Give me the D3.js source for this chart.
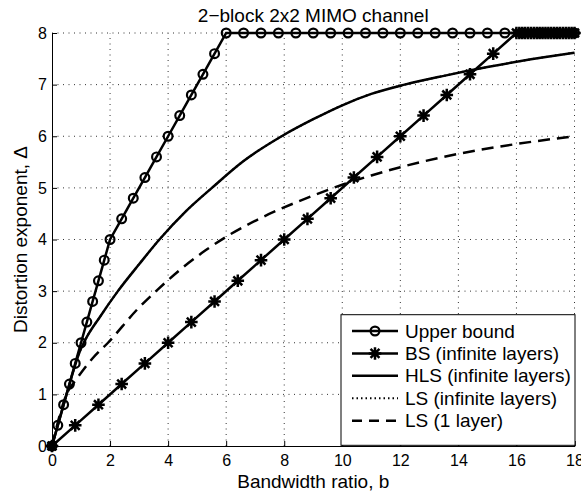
<!DOCTYPE html>
<html>
<head>
<meta charset="utf-8">
<script src="https://cdn.jsdelivr.net/npm/d3@7"></script>
<style>
  body { margin: 0; background: #fff; }
  svg { display: block; font-family: "Liberation Sans", Arial, sans-serif; }
</style>
</head>
<body>
<div id="chart"></div>
<script>
// 2-block 2x2 MIMO channel: distortion exponent vs bandwidth ratio

const X_TICKS = [0, 2, 4, 6, 8, 10, 12, 14, 16, 18];
const Y_TICKS = [0, 1, 2, 3, 4, 5, 6, 7, 8];

// Upper bound (circles)
const ubB = [0, 0.2, 0.4, 0.6, 0.8, 1.0, 1.2, 1.4, 1.6, 1.8, 2.0, 2.4, 2.8, 3.2, 3.6, 4.0, 4.4, 4.8, 5.2, 5.6, 6.0,
             6.6, 7.2, 7.8, 8.4, 9.0, 9.6, 10.2, 10.8, 11.4, 12.0, 12.6, 13.2, 13.8, 14.4, 15.0, 15.6, 16.2, 16.8, 17.4, 18.0];
const ubD = [0, 0.4, 0.8, 1.2, 1.6, 2.0, 2.4, 2.8, 3.2, 3.6, 4.0, 4.4, 4.8, 5.2, 5.6, 6.0, 6.4, 6.8, 7.2, 7.6, 8.0,
             8, 8, 8, 8, 8, 8, 8, 8, 8, 8, 8, 8, 8, 8, 8, 8, 8, 8, 8, 8];

// BS (infinite layers), asterisks
const bsB = [0, 0.8, 1.6, 2.4, 3.2, 4.0, 4.8, 5.6, 6.4, 7.2, 8.0, 8.8, 9.6, 10.4, 11.2, 12.0, 12.8, 13.6, 14.4, 15.2, 16.0,
             16.1, 16.2, 16.3, 16.4, 16.5, 16.6, 16.7, 16.8, 16.9, 17.0, 17.1, 17.2, 17.3, 17.4, 17.5, 17.6, 17.7, 17.8, 17.9, 18.0];
const bsD = [0, 0.4, 0.8, 1.2, 1.6, 2.0, 2.4, 2.8, 3.2, 3.6, 4.0, 4.4, 4.8, 5.2, 5.6, 6.0, 6.4, 6.8, 7.2, 7.6, 8.0,
             8, 8, 8, 8, 8, 8, 8, 8, 8, 8, 8, 8, 8, 8, 8, 8, 8, 8, 8, 8];

// HLS (infinite layers), solid
const hlsB = [0, 0.5, 0.75, 0.95, 1.15, 1.65, 2.27, 3.0, 3.7, 4.6, 5.51, 6.6, 7.91, 9, 10, 11, 12.15, 13.5, 15, 16.5, 18];
const hlsD = [0, 1.0, 1.48, 1.82, 2.06, 2.5, 3.0, 3.52, 4.0, 4.54, 5.0, 5.52, 6.0, 6.33, 6.6, 6.82, 7.0, 7.17, 7.34, 7.49, 7.62];

// LS (infinite layers), dotted -- lies under the HLS curve
const lsInfB = [0, 0.5, 0.75, 0.95, 1.15, 1.65, 2.27, 3.0, 3.7, 4.6, 5.51, 6.6, 7.91, 9, 10, 11, 12.15, 13.5, 15, 16.5, 18];
const lsInfD = [0, 1.0, 1.48, 1.82, 2.06, 2.5, 3.0, 3.52, 4.0, 4.54, 5.0, 5.52, 6.0, 6.33, 6.6, 6.82, 7.0, 7.17, 7.34, 7.49, 7.62];

// LS (1 layer), dashed
const ls1B = [0, 0.5, 0.85, 1.4, 1.93, 2.96, 3.64, 4.49, 5.29, 6.14, 7.28, 8.5, 10, 11, 12, 14, 16, 18];
const ls1D = [0, 1.0, 1.3, 1.7, 2.0, 2.66, 3.03, 3.45, 3.79, 4.1, 4.44, 4.74, 5.06, 5.24, 5.4, 5.66, 5.85, 6.0];

const LEGEND = ["Upper bound", "BS (infinite layers)", "HLS (infinite layers)", "LS (infinite layers)", "LS (1 layer)"];

const W = 581, H = 495;
const margin = { top: 33, right: 6.5, bottom: 49, left: 52 };

const svg = d3.select("#chart").append("svg").attr("width", W).attr("height", H);

const x = d3.scaleLinear().domain([0, 18]).range([margin.left, W - margin.right]);
const y = d3.scaleLinear().domain([0, 8]).range([H - margin.bottom, margin.top]);

const zip = (a, b) => a.map((v, i) => [v, b[i]]);
const line = d3.line().x(d => x(d[0])).y(d => y(d[1]));
const smooth = d3.line().x(d => x(d[0])).y(d => y(d[1])).curve(d3.curveMonotoneX);

// grid
const grid = svg.append("g").attr("stroke", "#333").attr("stroke-width", 1).attr("stroke-dasharray", "1,4.5");
grid.selectAll("line.gx").data(X_TICKS.slice(1)).enter().append("line")
    .attr("x1", d => x(d)).attr("x2", d => x(d))
    .attr("y1", y(0)).attr("y2", y(8));
grid.selectAll("line.gy").data(Y_TICKS.slice(1)).enter().append("line")
    .attr("y1", d => y(d)).attr("y2", d => y(d))
    .attr("x1", x(0)).attr("x2", x(18));

// axes (inward ticks)
const gX = svg.append("g").attr("transform", `translate(0,${y(0)})`)
  .call(d3.axisBottom(x).tickValues(X_TICKS).tickSize(-5).tickPadding(8).tickFormat(d3.format("d")));
const gY = svg.append("g").attr("transform", `translate(${x(0)},0)`)
  .call(d3.axisLeft(y).tickValues(Y_TICKS).tickSize(-5).tickPadding(5).tickFormat(d3.format("d")));
[gX, gY].forEach(g => {
  g.select(".domain").attr("stroke", "#000").attr("stroke-width", 1);
  g.selectAll(".tick line").attr("stroke", "#000");
  g.selectAll(".tick text").attr("fill", "#000").attr("font-size", 16)
    .attr("font-family", "Liberation Sans, Arial, sans-serif");
});
gX.selectAll(".tick text").attr("y", 9).attr("dy", "0.71em");

// series
const plot = svg.append("g");

function asterisk(g, cx, cy, r) {
  const a = r * 0.7071;
  g.append("path")
    .attr("d", `M${cx - r},${cy}H${cx + r}M${cx},${cy - r}V${cy + r}M${cx - a},${cy - a}L${cx + a},${cy + a}M${cx - a},${cy + a}L${cx + a},${cy - a}`)
    .attr("stroke", "#000").attr("stroke-width", 2.5).attr("fill", "none");
}

// upper bound
const ub = zip(ubB, ubD);
plot.append("path").datum(ub).attr("d", line)
  .attr("fill", "none").attr("stroke", "#000").attr("stroke-width", 2.5);
plot.selectAll("circle.ub").data(ub).enter().append("circle")
  .attr("cx", d => x(d[0])).attr("cy", d => y(d[1])).attr("r", 4.4)
  .attr("fill", "none").attr("stroke", "#000").attr("stroke-width", 2.2);

// BS
const bs = zip(bsB, bsD);
plot.append("path").datum(bs).attr("d", line)
  .attr("fill", "none").attr("stroke", "#000").attr("stroke-width", 2.5);
const gBs = plot.append("g");
bs.forEach(d => asterisk(gBs, x(d[0]), y(d[1]), 6.3));

// HLS
plot.append("path").datum(zip(hlsB, hlsD)).attr("d", smooth)
  .attr("fill", "none").attr("stroke", "#000").attr("stroke-width", 2.5);

// LS infinite
plot.append("path").datum(zip(lsInfB, lsInfD)).attr("d", smooth)
  .attr("fill", "none").attr("stroke", "#000").attr("stroke-width", 2).attr("stroke-dasharray", "1.5,3");

// LS 1 layer
plot.append("path").datum(zip(ls1B, ls1D)).attr("d", smooth)
  .attr("fill", "none").attr("stroke", "#000").attr("stroke-width", 2.5).attr("stroke-dasharray", "12,7");

// title and labels
svg.append("text").attr("x", (x(0) + x(18)) / 2).attr("y", 21.5).attr("text-anchor", "middle")
  .attr("font-size", 19).text("2\u2212block 2x2 MIMO channel");
svg.append("text").attr("x", (x(0) + x(18)) / 2).attr("y", 488).attr("text-anchor", "middle")
  .attr("font-size", 19).text("Bandwidth ratio, b");
svg.append("text").attr("transform", `translate(27,${(y(0) + y(8)) / 2}) rotate(-90)`).attr("text-anchor", "middle")
  .attr("font-size", 19).text("Distortion exponent, \u0394");

// legend
const lg = svg.append("g");
lg.append("rect").attr("x", 341).attr("y", 314.7).attr("width", 234).attr("height", 130.6)
  .attr("fill", "#fff").attr("stroke", "#000").attr("stroke-width", 1);
const rowY = d3.scalePoint().domain(LEGEND).range([331, 420.7]);
const styles = [
  { w: 2.5, dash: null, mark: "o" },
  { w: 2.5, dash: null, mark: "*" },
  { w: 2.5, dash: null, mark: null },
  { w: 2, dash: "1.5,3", mark: null },
  { w: 2.5, dash: "10,7", mark: null },
];
LEGEND.forEach((name, i) => {
  const cy = rowY(name), st = styles[i];
  lg.append("line").attr("x1", 352).attr("x2", 398).attr("y1", cy).attr("y2", cy)
    .attr("stroke", "#000").attr("stroke-width", st.w).attr("stroke-dasharray", st.dash);
  if (st.mark === "o") lg.append("circle").attr("cx", 375).attr("cy", cy).attr("r", 4.4)
    .attr("fill", "none").attr("stroke", "#000").attr("stroke-width", 2.2);
  if (st.mark === "*") asterisk(lg, 375, cy, 6.3);
  lg.append("text").attr("x", 405).attr("y", cy + 6.5).attr("font-size", 19).text(name);
});
</script>
</body>
</html>
